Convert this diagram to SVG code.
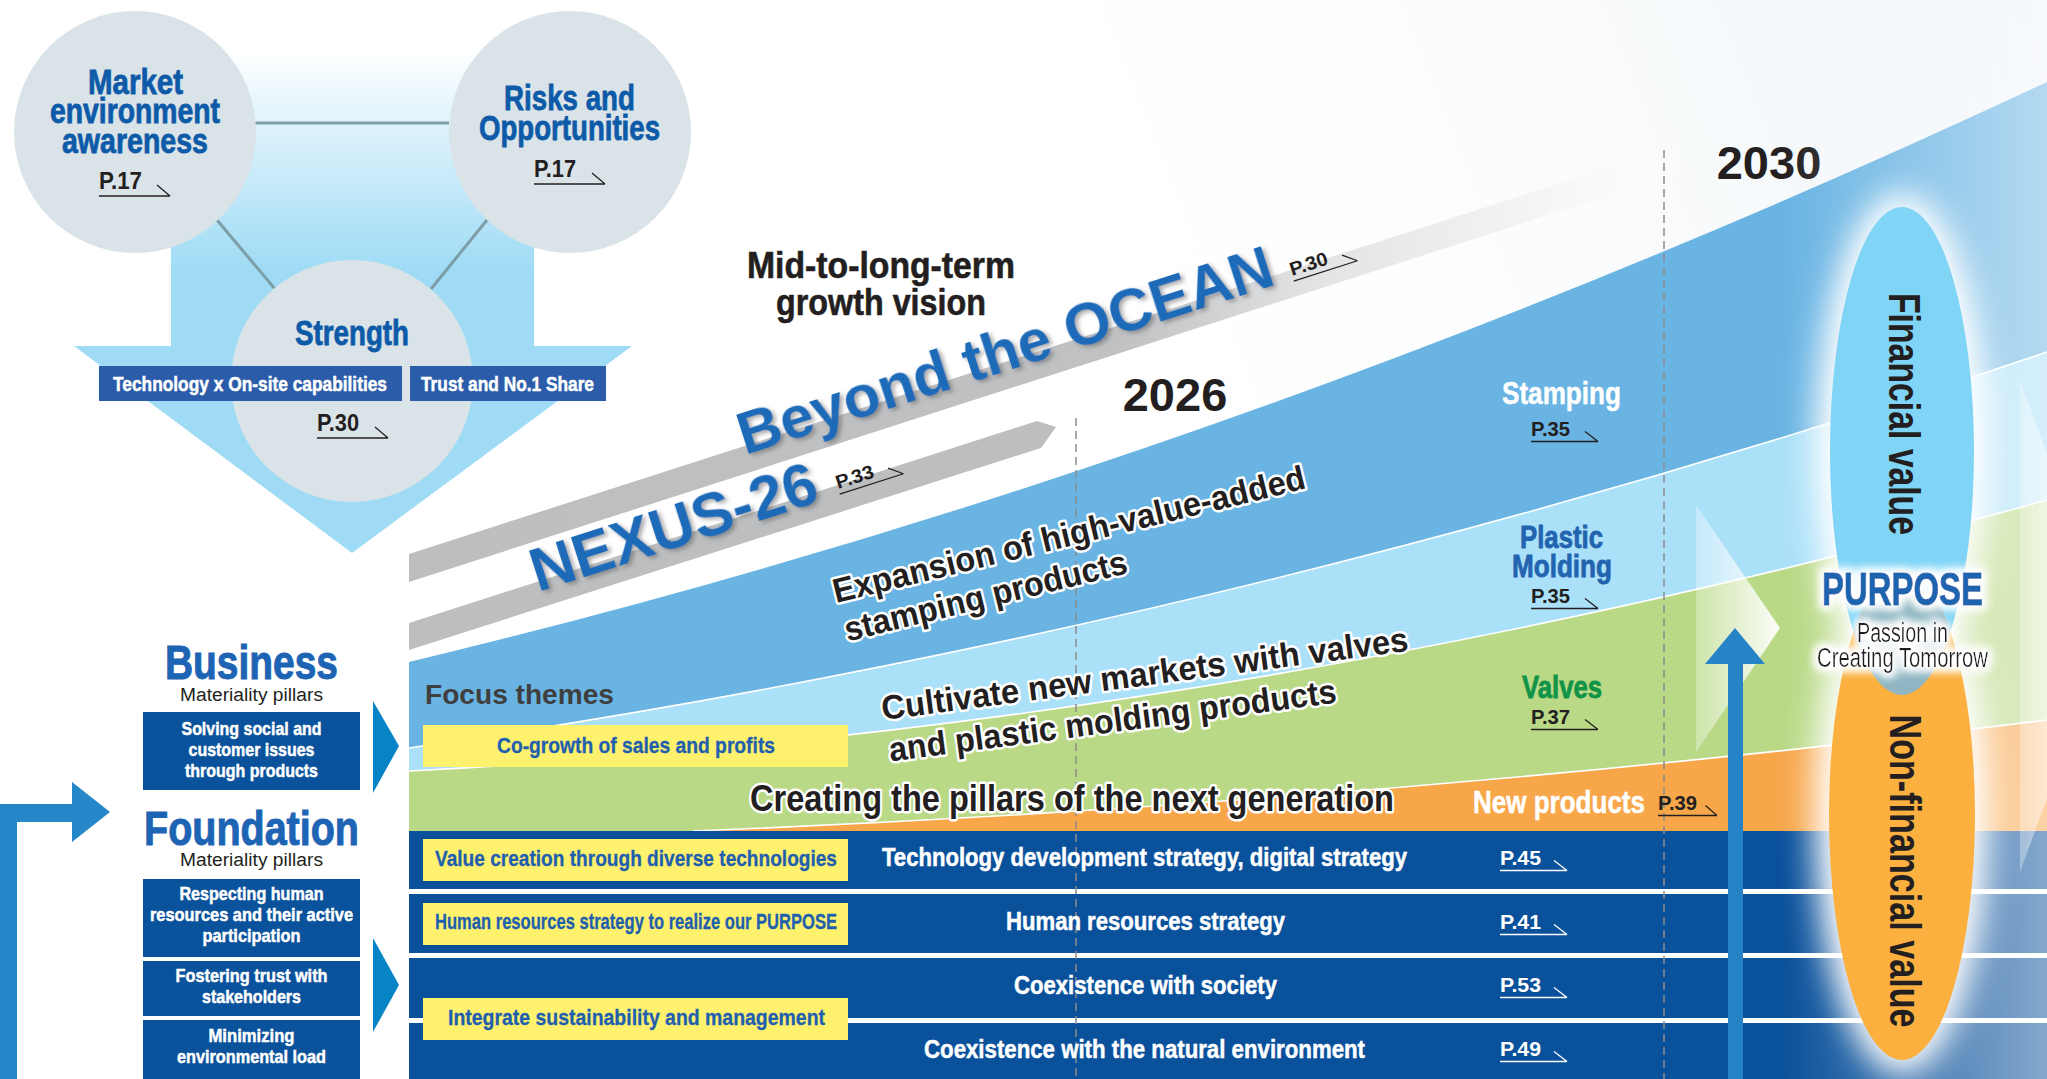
<svg xmlns="http://www.w3.org/2000/svg" width="2047" height="1079" viewBox="0 0 2047 1079">
<defs>
<style>
.cn{font-family:"Liberation Sans Narrow","Liberation Sans",Arial,sans-serif;font-weight:700}
.cr{font-family:"Liberation Sans Narrow","Liberation Sans",Arial,sans-serif;font-weight:400}
.hv{font-family:"Liberation Sans",Arial,sans-serif;font-weight:700}
.navy{fill:#0d5ba8;stroke:#0d5ba8;stroke-width:0.8}
.ink{fill:#231f20}
.inkB{fill:#231f20;stroke:#231f20;stroke-width:0.6}
.wh{fill:#fff}
.whB{fill:#fff;stroke:#fff;stroke-width:0.5}
.yb{fill:#fdf16e}
.yt{fill:#1f5fae;stroke:#1f5fae;stroke-width:0.3}
.box{fill:#0a529b}
.head{fill:#1e64b4;stroke:#1e64b4;stroke-width:1}
.outl{fill:#231f20;stroke:#fff;stroke-width:5;stroke-linejoin:round;paint-order:stroke}
.ref{fill:none;stroke:#231f20;stroke-width:1.3}
.refw{fill:none;stroke:#fff;stroke-width:1.3}
.link{stroke:#7d9ea8;stroke-width:3}
.dash{stroke:#8c8c8c;stroke-width:1.5;stroke-dasharray:8 5}
.edge{fill:none;stroke:#fff;stroke-width:1.6}
.circle{fill:#dae3e8}
</style>
<linearGradient id="gArrow" gradientUnits="userSpaceOnUse" x1="0" y1="50" x2="0" y2="270">
<stop offset="0" stop-color="#ffffff"/>
<stop offset="1" stop-color="#9fdbf5"/>
</linearGradient>
<linearGradient id="gBar" gradientUnits="userSpaceOnUse" x1="409" y1="0" x2="1700" y2="0">
<stop offset="0" stop-color="#bcbec0"/>
<stop offset="0.55" stop-color="#bfc1c3"/>
<stop offset="0.7" stop-color="#e2e3e4"/>
<stop offset="0.88" stop-color="#f5f5f6"/>
<stop offset="1" stop-color="#ffffff" stop-opacity="0"/>
</linearGradient>
<linearGradient id="gSky" gradientUnits="userSpaceOnUse" x1="1000" y1="420" x2="2047" y2="0">
<stop offset="0" stop-color="#ffffff" stop-opacity="0"/>
<stop offset="1" stop-color="#eef3f7"/>
</linearGradient>
<linearGradient id="gFade" gradientUnits="userSpaceOnUse" x1="1780" y1="0" x2="2047" y2="0">
<stop offset="0" stop-color="#ffffff" stop-opacity="0"/>
<stop offset="1" stop-color="#ffffff" stop-opacity="0.5"/>
</linearGradient>
<linearGradient id="gChev" x1="0" y1="0" x2="1" y2="0">
<stop offset="0" stop-color="#ffffff" stop-opacity="0.3"/>
<stop offset="1" stop-color="#ffffff" stop-opacity="0.95"/>
</linearGradient>
<filter id="fGlow" filterUnits="userSpaceOnUse" x="1700" y="100" width="400" height="1060">
<feGaussianBlur stdDeviation="16"/>
</filter>
<filter id="fHalo" filterUnits="userSpaceOnUse" x="1780" y="540" width="250" height="160">
<feMorphology in="SourceAlpha" operator="dilate" radius="3" result="d"/>
<feGaussianBlur in="d" stdDeviation="5" result="b"/>
<feFlood flood-color="#ffffff"/>
<feComposite in2="b" operator="in" result="g"/>
<feMerge><feMergeNode in="g"/><feMergeNode in="g"/><feMergeNode in="SourceGraphic"/></feMerge>
</filter>
<filter id="fShadow" x="-5%" y="-25%" width="110%" height="150%">
<feDropShadow dx="2.5" dy="3" stdDeviation="2" flood-color="#555555" flood-opacity="0.5"/>
</filter>
<clipPath id="clipFin"><ellipse cx="1902" cy="451" rx="72" ry="244"/></clipPath>
<!-- page reference underline with tick -->
<path id="refS" d="M0,5.5 H67 M54,-4.5 L67,5.5"/>
<path id="refL" d="M0,7 H71 M58,-4 L71,7"/>
</defs>

<rect width="2047" height="1079" fill="#ffffff"/>
<rect x="1000" y="0" width="1047" height="420" fill="url(#gSky)"/>

<!-- value creation inputs: circles over down arrow -->
<g id="inputs">
<polygon points="171,40 534,40 534,346 632,346 352,553 74,346 171,346" fill="url(#gArrow)"/>
<line class="link" x1="255" y1="123" x2="449" y2="123"/>
<line class="link" x1="217" y1="220" x2="275" y2="289"/>
<line class="link" x1="487" y1="220" x2="431" y2="289"/>
<g id="market">
<circle class="circle" cx="135" cy="132" r="121"/>
<text class="cn navy" font-size="35" x="88" y="94" textLength="95" lengthAdjust="spacingAndGlyphs">Market</text>
<text class="cn navy" font-size="35" x="50" y="123" textLength="170" lengthAdjust="spacingAndGlyphs">environment</text>
<text class="cn navy" font-size="35" x="62" y="153" textLength="146" lengthAdjust="spacingAndGlyphs">awareness</text>
<text class="cn ink" font-size="23" x="99" y="189" textLength="43" lengthAdjust="spacingAndGlyphs">P.17</text>
<use href="#refL" class="ref" x="99" y="189"/>
</g>
<g id="risks">
<circle class="circle" cx="570" cy="132" r="121"/>
<text class="cn navy" font-size="35" x="504" y="110" textLength="131" lengthAdjust="spacingAndGlyphs">Risks and</text>
<text class="cn navy" font-size="35" x="479" y="140" textLength="181" lengthAdjust="spacingAndGlyphs">Opportunities</text>
<text class="cn ink" font-size="23" x="534" y="177" textLength="42" lengthAdjust="spacingAndGlyphs">P.17</text>
<use href="#refL" class="ref" x="534" y="177"/>
</g>
<g id="strength">
<circle class="circle" cx="352" cy="381" r="121"/>
<text class="cn navy" font-size="35" x="295" y="345" textLength="114" lengthAdjust="spacingAndGlyphs">Strength</text>
<rect x="99" y="366" width="303" height="35" fill="#2b5ca9"/>
<rect x="410" y="366" width="196" height="35" fill="#2b5ca9"/>
<text class="cn whB" font-size="21" x="113" y="391" textLength="274" lengthAdjust="spacingAndGlyphs">Technology x On-site capabilities</text>
<text class="cn whB" font-size="21" x="421" y="391" textLength="173" lengthAdjust="spacingAndGlyphs">Trust and No.1 Share</text>
<text class="cn ink" font-size="23" x="317" y="431" textLength="42" lengthAdjust="spacingAndGlyphs">P.30</text>
<use href="#refL" class="ref" x="317" y="431"/>
</g>
</g>

<!-- growth bands -->
<g id="bands">
<polygon points="409,554 1750,122 1750,150 409,582" fill="url(#gBar)"/>
<polygon points="409,623 1037,421 1056,427 1041,448 409,650" fill="#bcbec0"/>
<path d="M409,662 Q1228,466 2047,82 L2047,831 L409,831 Z" fill="#69b4e3"/>
<path d="M409,748 Q1228,630 2047,352 L2047,831 L409,831 Z" fill="#abe0f9"/>
<path d="M409,771 Q1228,729 2047,500 L2047,831 L409,831 Z" fill="#b9d986"/>
<path d="M693,831 Q1370,804 2047,720 L2047,831 Z" fill="#f7a64a"/>
<path class="edge" d="M409,748 Q1228,630 2047,352"/>
<path class="edge" d="M409,771 Q1228,729 2047,500"/>
<path class="edge" d="M693,831 Q1370,804 2047,720"/>
<rect x="409" y="831" width="1638" height="248" fill="#0a519b"/>
<rect x="409" y="889" width="1638" height="5" fill="#ffffff"/>
<rect x="409" y="953" width="1638" height="5" fill="#ffffff"/>
<rect x="409" y="1018" width="1638" height="5" fill="#ffffff"/>
</g>

<g id="timeline">
<line class="dash" x1="1076" y1="418" x2="1076" y2="1079"/>
<line class="dash" x1="1664" y1="150" x2="1664" y2="1079"/>
<text class="hv ink" font-size="47" x="1175" y="411" text-anchor="middle">2026</text>
<text class="hv ink" font-size="47" x="1769" y="179" text-anchor="middle">2030</text>
</g>

<rect x="1780" y="0" width="267" height="1079" fill="url(#gFade)"/>
<polygon points="1696,505 1780,628 1696,752" fill="url(#gChev)"/>
<polygon points="2020,380 2110,626 2020,872" fill="url(#gChev)"/>

<g id="upArrow">
<polygon points="1728,1079 1728,664 1705,664 1735,628 1765,664 1743,664 1743,1079" fill="#2583c6"/>
</g>

<!-- vision headings -->
<g id="vision">
<text class="cn inkB" font-size="37" x="881" y="278" text-anchor="middle" textLength="268" lengthAdjust="spacingAndGlyphs">Mid-to-long-term</text>
<text class="cn inkB" font-size="37" x="881" y="315" text-anchor="middle" textLength="210" lengthAdjust="spacingAndGlyphs">growth vision</text>
<g transform="translate(745,455) rotate(-17.8)" filter="url(#fShadow)">
<text class="hv" fill="#1e6bb8" font-size="60" x="0" y="0" textLength="559" lengthAdjust="spacingAndGlyphs">Beyond the OCEAN</text>
</g>
<g transform="translate(1292,276) rotate(-17.8)">
<text class="cn ink" font-size="19" x="0" y="0" textLength="39" lengthAdjust="spacingAndGlyphs">P.30</text>
<use href="#refS" class="ref"/>
</g>
<g transform="translate(538,592) rotate(-17.8)" filter="url(#fShadow)">
<text class="hv" fill="#1e6bb8" font-size="61" x="0" y="0" textLength="298" lengthAdjust="spacingAndGlyphs">NEXUS-26</text>
</g>
<g transform="translate(838,489) rotate(-17.8)">
<text class="cn ink" font-size="19" x="0" y="0" textLength="39" lengthAdjust="spacingAndGlyphs">P.33</text>
<use href="#refS" class="ref"/>
</g>
</g>

<!-- band labels -->
<g id="bandText">
<g transform="translate(836,603) rotate(-13.7)">
<text class="hv outl" font-size="34" x="0" y="0" textLength="485" lengthAdjust="spacingAndGlyphs">Expansion of high-value-added</text>
<text class="hv outl" font-size="34" x="2" y="40" textLength="290" lengthAdjust="spacingAndGlyphs">stamping products</text>
</g>
<g transform="translate(883,720) rotate(-7.5)">
<text class="hv outl" font-size="34" x="0" y="0" textLength="531" lengthAdjust="spacingAndGlyphs">Cultivate new markets with valves</text>
<text class="hv outl" font-size="34" x="2" y="42" textLength="451" lengthAdjust="spacingAndGlyphs">and plastic molding products</text>
</g>
<text class="cn outl" font-size="37" x="750" y="811" textLength="644" lengthAdjust="spacingAndGlyphs">Creating the pillars of the next generation</text>
<text class="hv" fill="#3f3f3f" font-size="28" x="425" y="704" textLength="189" lengthAdjust="spacingAndGlyphs">Focus themes</text>

<text class="cn whB" font-size="32" x="1502" y="404" textLength="119" lengthAdjust="spacingAndGlyphs">Stamping</text>
<text class="cn ink" font-size="20" x="1531" y="436" textLength="39" lengthAdjust="spacingAndGlyphs">P.35</text>
<use href="#refS" class="ref" x="1531" y="436"/>
<text class="cn" fill="#2364b0" stroke="#2364b0" stroke-width="0.8" font-size="32" x="1520" y="548" textLength="83" lengthAdjust="spacingAndGlyphs">Plastic</text>
<text class="cn" fill="#2364b0" stroke="#2364b0" stroke-width="0.8" font-size="32" x="1512" y="577" textLength="100" lengthAdjust="spacingAndGlyphs">Molding</text>
<text class="cn ink" font-size="20" x="1531" y="603" textLength="39" lengthAdjust="spacingAndGlyphs">P.35</text>
<use href="#refS" class="ref" x="1531" y="603"/>
<text class="cn" fill="#119447" stroke="#119447" stroke-width="0.8" font-size="32" x="1522" y="698" textLength="80" lengthAdjust="spacingAndGlyphs">Valves</text>
<text class="cn ink" font-size="20" x="1531" y="724" textLength="39" lengthAdjust="spacingAndGlyphs">P.37</text>
<use href="#refS" class="ref" x="1531" y="724"/>
<text class="cn whB" font-size="31" x="1473" y="813" textLength="172" lengthAdjust="spacingAndGlyphs">New products</text>
<text class="cn ink" font-size="20" x="1658" y="810" textLength="39" lengthAdjust="spacingAndGlyphs">P.39</text>
<use href="#refS" class="ref" transform="translate(1658,810) scale(0.88,1)"/>
</g>

<!-- focus theme boxes -->
<g id="focusThemes">
<rect class="yb" x="423" y="725" width="425" height="42"/>
<text class="cn yt" font-size="22" x="497" y="753" textLength="278" lengthAdjust="spacingAndGlyphs">Co-growth of sales and profits</text>
<rect class="yb" x="423" y="839" width="425" height="42"/>
<text class="cn yt" font-size="22" x="435" y="866" textLength="402" lengthAdjust="spacingAndGlyphs">Value creation through diverse technologies</text>
<rect class="yb" x="423" y="903" width="425" height="42"/>
<text class="cn yt" font-size="22" x="435" y="929" textLength="402" lengthAdjust="spacingAndGlyphs">Human resources strategy to realize our PURPOSE</text>
<rect class="yb" x="423" y="998" width="425" height="42"/>
<text class="cn yt" font-size="22" x="448" y="1025" textLength="377" lengthAdjust="spacingAndGlyphs">Integrate sustainability and management</text>
</g>

<!-- foundation strategies -->
<g id="strategies">
<text class="cn whB" font-size="26" x="882" y="866" textLength="525" lengthAdjust="spacingAndGlyphs">Technology development strategy, digital strategy</text>
<text class="cn wh" font-size="20" x="1500" y="865" textLength="41" lengthAdjust="spacingAndGlyphs">P.45</text>
<use href="#refS" class="refw" x="1500" y="865"/>
<text class="cn whB" font-size="26" x="1006" y="930" textLength="279" lengthAdjust="spacingAndGlyphs">Human resources strategy</text>
<text class="cn wh" font-size="20" x="1500" y="929" textLength="41" lengthAdjust="spacingAndGlyphs">P.41</text>
<use href="#refS" class="refw" x="1500" y="929"/>
<text class="cn whB" font-size="26" x="1014" y="994" textLength="263" lengthAdjust="spacingAndGlyphs">Coexistence with society</text>
<text class="cn wh" font-size="20" x="1500" y="992" textLength="41" lengthAdjust="spacingAndGlyphs">P.53</text>
<use href="#refS" class="refw" x="1500" y="992"/>
<text class="cn whB" font-size="26" x="924" y="1058" textLength="441" lengthAdjust="spacingAndGlyphs">Coexistence with the natural environment</text>
<text class="cn wh" font-size="20" x="1500" y="1056" textLength="41" lengthAdjust="spacingAndGlyphs">P.49</text>
<use href="#refS" class="refw" x="1500" y="1056"/>
</g>

<!-- value outcomes -->
<g id="values">
<g filter="url(#fGlow)" fill="#ffffff">
<ellipse cx="1902" cy="451" rx="86" ry="258"/>
<ellipse cx="1902" cy="815" rx="87" ry="259"/>
</g>
<ellipse cx="1902" cy="451" rx="72" ry="244" fill="#80d4f6"/>
<ellipse cx="1902" cy="815" rx="73" ry="245" fill="#fbb040"/>
<ellipse cx="1902" cy="815" rx="73" ry="245" fill="#8fb6c2" clip-path="url(#clipFin)"/>
<text class="hv ink" font-size="44" transform="translate(1889,414) rotate(90)" text-anchor="middle" textLength="242" lengthAdjust="spacingAndGlyphs">Financial value</text>
<text class="hv ink" font-size="44" transform="translate(1890,871) rotate(90)" text-anchor="middle" textLength="313" lengthAdjust="spacingAndGlyphs">Non-financial value</text>
<g id="purpose" filter="url(#fHalo)">
<text class="cn" fill="#1f64b0" stroke="#1f64b0" stroke-width="1" font-size="46" x="1822" y="605" textLength="161" lengthAdjust="spacingAndGlyphs">PURPOSE</text>
<text class="cr ink" font-size="27" x="1857" y="642" textLength="91" lengthAdjust="spacingAndGlyphs">Passion in</text>
<text class="cr ink" font-size="27" x="1817" y="667" textLength="171" lengthAdjust="spacingAndGlyphs">Creating Tomorrow</text>
</g>
</g>

<!-- materiality pillars -->
<g id="pillars">
<polygon points="0,1079 0,804 72,804 72,782 110,812 72,842 72,822 17,822 17,1079" fill="#2586c8"/>
<polygon points="373,701 399,746 373,793" fill="#0784c6"/>
<polygon points="373,938 399,985 373,1032" fill="#0784c6"/>
<text class="cn head" font-size="48" x="165" y="679" textLength="173" lengthAdjust="spacingAndGlyphs">Business</text>
<text class="cr ink" font-size="18" x="180" y="701" textLength="143" lengthAdjust="spacingAndGlyphs">Materiality pillars</text>
<g id="pillarBusiness">
<rect class="box" x="143" y="712" width="217" height="78"/>
<text class="cn whB" font-size="19" x="251.5" y="735" text-anchor="middle" textLength="140" lengthAdjust="spacingAndGlyphs">Solving social and</text>
<text class="cn whB" font-size="19" x="251.5" y="756" text-anchor="middle" textLength="126" lengthAdjust="spacingAndGlyphs">customer issues</text>
<text class="cn whB" font-size="19" x="251.5" y="777" text-anchor="middle" textLength="133" lengthAdjust="spacingAndGlyphs">through products</text>
</g>
<text class="cn head" font-size="48" x="144" y="845" textLength="215" lengthAdjust="spacingAndGlyphs">Foundation</text>
<text class="cr ink" font-size="18" x="180" y="866" textLength="143" lengthAdjust="spacingAndGlyphs">Materiality pillars</text>
<g id="pillarPeople">
<rect class="box" x="143" y="879" width="217" height="78"/>
<text class="cn whB" font-size="19" x="251.5" y="900" text-anchor="middle" textLength="144" lengthAdjust="spacingAndGlyphs">Respecting human</text>
<text class="cn whB" font-size="19" x="251.5" y="921" text-anchor="middle" textLength="203" lengthAdjust="spacingAndGlyphs">resources and their active</text>
<text class="cn whB" font-size="19" x="251.5" y="942" text-anchor="middle" textLength="98" lengthAdjust="spacingAndGlyphs">participation</text>
</g>
<g id="pillarTrust">
<rect class="box" x="143" y="961" width="217" height="55"/>
<text class="cn whB" font-size="19" x="251.5" y="982" text-anchor="middle" textLength="152" lengthAdjust="spacingAndGlyphs">Fostering trust with</text>
<text class="cn whB" font-size="19" x="251.5" y="1003" text-anchor="middle" textLength="99" lengthAdjust="spacingAndGlyphs">stakeholders</text>
</g>
<g id="pillarEnv">
<rect class="box" x="143" y="1020" width="217" height="59"/>
<text class="cn whB" font-size="19" x="251.5" y="1042" text-anchor="middle" textLength="86" lengthAdjust="spacingAndGlyphs">Minimizing</text>
<text class="cn whB" font-size="19" x="251.5" y="1063" text-anchor="middle" textLength="149" lengthAdjust="spacingAndGlyphs">environmental load</text>
</g>
</g>
</svg>
